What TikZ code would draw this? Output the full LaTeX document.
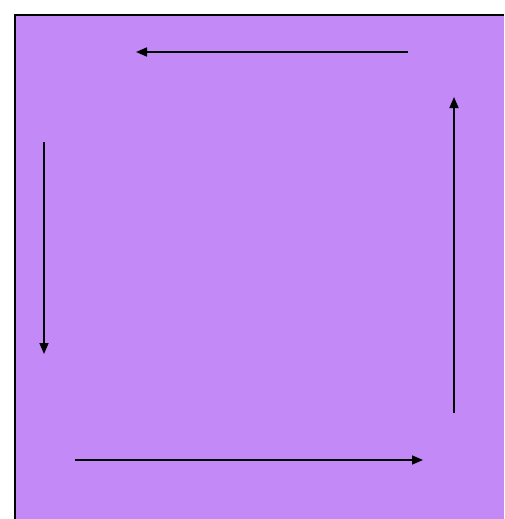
\documentclass[tikz,border=0pt]{standalone}
\usepackage{tikz}
\usetikzlibrary{positioning,arrows.meta}
\definecolor{boxfill}{HTML}{C389F7}
\tikzset{
  flow/.style={-{Triangle[length=11pt,width=9pt]},line width=1.6pt,black},
}
\begin{document}
\begin{tikzpicture}[x=1pt,y=-1pt]
  \useasboundingbox (0,0) rectangle (504,519);
  % background square
  \fill[boxfill] (15,15) rectangle (504,519);
  \draw[line width=2pt] (15,519) -- (15,15) -- (504,15);
  % arrow ends
  \coordinate (topR) at (408,52);
  \coordinate (topL) at (136,52);
  \coordinate (leftT) at (44,142);
  \coordinate (leftB) at (44,354);
  \coordinate (botL) at (75,460);
  \coordinate (botR) at (423,460);
  \coordinate (rightB) at (454,413);
  \coordinate (rightT) at (454,97);
  % arrows
  \draw[flow] (topR) -- (topL);
  \draw[flow] (leftT) -- (leftB);
  \draw[flow] (botL) -- (botR);
  \draw[flow] (rightB) -- (rightT);
\end{tikzpicture}
\end{document}
